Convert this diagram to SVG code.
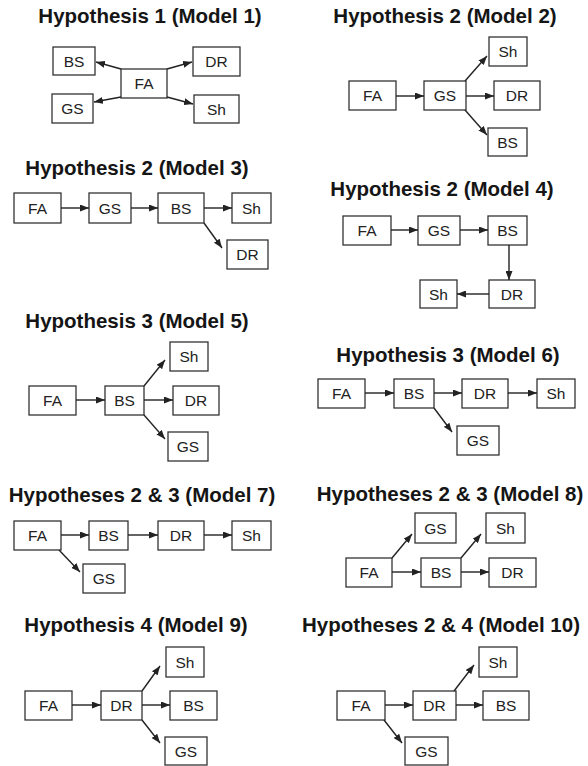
<svg xmlns="http://www.w3.org/2000/svg" width="588" height="766" viewBox="0 0 588 766">
<style>
.t{font-family:"Liberation Sans",Arial,sans-serif;font-weight:bold;font-size:20.5px;fill:#151515;text-anchor:middle}
.n rect{fill:#fff;stroke:#333;stroke-width:1.3}
.n text{font-family:"Liberation Sans",Arial,sans-serif;font-size:15.5px;fill:#222;text-anchor:middle}
.c line{stroke:#222;stroke-width:1.4;marker-end:url(#ah)}
</style>
<defs>
<marker id="ah" viewBox="0 0 9 7" refX="9" refY="3.5" markerWidth="9" markerHeight="7" markerUnits="userSpaceOnUse" orient="auto">
<path d="M0,0 L9,3.5 L0,7 z" fill="#222"/>
</marker>
</defs>
<rect width="588" height="766" fill="#fff"/>
<g id="titles">
<text class="t" x="150" y="23">Hypothesis 1 (Model 1)</text>
<text class="t" x="445" y="23">Hypothesis 2 (Model 2)</text>
<text class="t" x="137" y="175">Hypothesis 2 (Model 3)</text>
<text class="t" x="442" y="196">Hypothesis 2 (Model 4)</text>
<text class="t" x="137" y="328">Hypothesis 3 (Model 5)</text>
<text class="t" x="448" y="362">Hypothesis 3 (Model 6)</text>
<text class="t" x="142" y="502">Hypotheses 2 &amp; 3 (Model 7)</text>
<text class="t" x="450" y="501">Hypotheses 2 &amp; 3 (Model 8)</text>
<text class="t" x="136" y="632">Hypothesis 4 (Model 9)</text>
<text class="t" x="441" y="632">Hypotheses 2 &amp; 4 (Model 10)</text>
</g>
<!-- Model 1 -->
<g id="m1-BS" class="n"><rect x="53" y="47" width="42" height="28"/><text x="74" y="66.5">BS</text></g>
<g id="m1-DR" class="n"><rect x="193" y="47" width="47" height="29"/><text x="216.5" y="67">DR</text></g>
<g id="m1-FA" class="n"><rect x="121" y="69" width="46" height="29"/><text x="144" y="89">FA</text></g>
<g id="m1-GS" class="n"><rect x="52" y="94" width="41" height="29"/><text x="72.5" y="114">GS</text></g>
<g id="m1-Sh" class="n"><rect x="194" y="95" width="45" height="28"/><text x="216.5" y="114.5">Sh</text></g>
<!-- Model 2 -->
<g id="m2-FA" class="n"><rect x="349" y="81" width="47" height="29"/><text x="372.5" y="101">FA</text></g>
<g id="m2-GS" class="n"><rect x="424" y="81" width="42" height="29"/><text x="445" y="101">GS</text></g>
<g id="m2-Sh" class="n"><rect x="489" y="37" width="38" height="29"/><text x="508" y="57">Sh</text></g>
<g id="m2-DR" class="n"><rect x="494" y="81" width="46" height="29"/><text x="517" y="101">DR</text></g>
<g id="m2-BS" class="n"><rect x="488" y="128" width="39" height="28"/><text x="507.5" y="147.5">BS</text></g>
<!-- Model 3 -->
<g id="m3-FA" class="n"><rect x="14" y="193" width="47" height="30"/><text x="37.5" y="213.5">FA</text></g>
<g id="m3-GS" class="n"><rect x="89" y="193" width="42" height="30"/><text x="110" y="213.5">GS</text></g>
<g id="m3-BS" class="n"><rect x="158" y="193" width="46" height="30"/><text x="181" y="213.5">BS</text></g>
<g id="m3-Sh" class="n"><rect x="232" y="193" width="39" height="30"/><text x="251.5" y="213.5">Sh</text></g>
<g id="m3-DR" class="n"><rect x="227" y="240" width="41" height="29"/><text x="247.5" y="260">DR</text></g>
<!-- Model 4 -->
<g id="m4-FA" class="n"><rect x="343" y="216" width="48" height="29"/><text x="367" y="236">FA</text></g>
<g id="m4-GS" class="n"><rect x="418" y="216" width="42" height="29"/><text x="439" y="236">GS</text></g>
<g id="m4-BS" class="n"><rect x="488" y="216" width="39" height="29"/><text x="507.5" y="236">BS</text></g>
<g id="m4-DR" class="n"><rect x="489" y="280" width="46" height="28"/><text x="512" y="299.5">DR</text></g>
<g id="m4-Sh" class="n"><rect x="420" y="280" width="37" height="28"/><text x="438.5" y="299.5">Sh</text></g>
<!-- Model 5 -->
<g id="m5-FA" class="n"><rect x="29" y="386" width="47" height="29"/><text x="52.5" y="406">FA</text></g>
<g id="m5-BS" class="n"><rect x="105" y="386" width="39" height="29"/><text x="124.5" y="406">BS</text></g>
<g id="m5-Sh" class="n"><rect x="170" y="342" width="38" height="29"/><text x="189" y="362">Sh</text></g>
<g id="m5-DR" class="n"><rect x="173" y="386" width="46" height="29"/><text x="196" y="406">DR</text></g>
<g id="m5-GS" class="n"><rect x="168" y="432" width="40" height="29"/><text x="188" y="452">GS</text></g>
<!-- Model 6 -->
<g id="m6-FA" class="n"><rect x="318" y="379" width="47" height="29"/><text x="341.5" y="399">FA</text></g>
<g id="m6-BS" class="n"><rect x="394" y="379" width="40" height="29"/><text x="414" y="399">BS</text></g>
<g id="m6-DR" class="n"><rect x="462" y="379" width="46" height="29"/><text x="485" y="399">DR</text></g>
<g id="m6-Sh" class="n"><rect x="537" y="379" width="38" height="29"/><text x="556" y="399">Sh</text></g>
<g id="m6-GS" class="n"><rect x="457" y="426" width="42" height="29"/><text x="478" y="446">GS</text></g>
<!-- Model 7 -->
<g id="m7-FA" class="n"><rect x="14" y="521" width="47" height="29"/><text x="37.5" y="541">FA</text></g>
<g id="m7-BS" class="n"><rect x="89" y="521" width="39" height="29"/><text x="108.5" y="541">BS</text></g>
<g id="m7-DR" class="n"><rect x="158" y="521" width="46" height="29"/><text x="181" y="541">DR</text></g>
<g id="m7-Sh" class="n"><rect x="232" y="521" width="39" height="29"/><text x="251.5" y="541">Sh</text></g>
<g id="m7-GS" class="n"><rect x="83" y="564" width="42" height="29"/><text x="104" y="584">GS</text></g>
<!-- Model 8 -->
<g id="m8-GS" class="n"><rect x="415" y="513" width="41" height="30"/><text x="435.5" y="533.5">GS</text></g>
<g id="m8-Sh" class="n"><rect x="486" y="513" width="39" height="30"/><text x="505.5" y="533.5">Sh</text></g>
<g id="m8-FA" class="n"><rect x="346" y="558" width="46" height="29"/><text x="369" y="578">FA</text></g>
<g id="m8-BS" class="n"><rect x="421" y="558" width="40" height="29"/><text x="441" y="578">BS</text></g>
<g id="m8-DR" class="n"><rect x="489" y="558" width="47" height="29"/><text x="512.5" y="578">DR</text></g>
<!-- Model 9 -->
<g id="m9-FA" class="n"><rect x="25" y="691" width="47" height="29"/><text x="48.5" y="711">FA</text></g>
<g id="m9-DR" class="n"><rect x="101" y="691" width="41" height="29"/><text x="121.5" y="711">DR</text></g>
<g id="m9-Sh" class="n"><rect x="166" y="647" width="38" height="30"/><text x="185" y="667.5">Sh</text></g>
<g id="m9-BS" class="n"><rect x="170" y="691" width="47" height="29"/><text x="193.5" y="711">BS</text></g>
<g id="m9-GS" class="n"><rect x="165" y="737" width="42" height="28"/><text x="186" y="756.5">GS</text></g>
<!-- Model 10 -->
<g id="m10-FA" class="n"><rect x="337" y="691" width="48" height="29"/><text x="361" y="711">FA</text></g>
<g id="m10-DR" class="n"><rect x="413" y="691" width="43" height="29"/><text x="434.5" y="711">DR</text></g>
<g id="m10-BS" class="n"><rect x="483" y="691" width="46" height="29"/><text x="506" y="711">BS</text></g>
<g id="m10-Sh" class="n"><rect x="479" y="647" width="38" height="30"/><text x="498" y="667.5">Sh</text></g>
<g id="m10-GS" class="n"><rect x="405" y="737" width="43" height="28"/><text x="426.5" y="756.5">GS</text></g>
<g id="connectors" class="c">
<line x1="121" y1="69" x2="96" y2="62"/>
<line x1="167" y1="69" x2="192" y2="62"/>
<line x1="121" y1="97" x2="94" y2="102"/>
<line x1="167" y1="97" x2="193" y2="104"/>
<line x1="396" y1="96" x2="424" y2="96"/>
<line x1="466" y1="96" x2="494" y2="96"/>
<line x1="465" y1="81" x2="487" y2="56"/>
<line x1="465" y1="110" x2="487" y2="135"/>
<line x1="61" y1="208" x2="89" y2="208"/>
<line x1="131" y1="208" x2="158" y2="208"/>
<line x1="204" y1="208" x2="232" y2="208"/>
<line x1="204" y1="223" x2="222" y2="248"/>
<line x1="391" y1="230" x2="418" y2="230"/>
<line x1="460" y1="230" x2="488" y2="230"/>
<line x1="509" y1="245" x2="509" y2="280"/>
<line x1="489" y1="294" x2="457" y2="294"/>
<line x1="76" y1="400" x2="105" y2="400"/>
<line x1="144" y1="400" x2="173" y2="400"/>
<line x1="144" y1="386" x2="165" y2="360"/>
<line x1="144" y1="415" x2="165" y2="439"/>
<line x1="365" y1="393" x2="394" y2="393"/>
<line x1="434" y1="393" x2="462" y2="393"/>
<line x1="508" y1="393" x2="537" y2="393"/>
<line x1="434" y1="408" x2="452" y2="432"/>
<line x1="61" y1="535" x2="89" y2="535"/>
<line x1="128" y1="535" x2="158" y2="535"/>
<line x1="204" y1="535" x2="232" y2="535"/>
<line x1="59" y1="550" x2="80" y2="572"/>
<line x1="392" y1="572" x2="421" y2="572"/>
<line x1="461" y1="572" x2="489" y2="572"/>
<line x1="392" y1="558" x2="412" y2="534"/>
<line x1="461" y1="558" x2="481" y2="534"/>
<line x1="72" y1="705" x2="101" y2="705"/>
<line x1="142" y1="705" x2="170" y2="705"/>
<line x1="142" y1="691" x2="160" y2="666"/>
<line x1="142" y1="720" x2="160" y2="743"/>
<line x1="385" y1="705" x2="413" y2="705"/>
<line x1="456" y1="705" x2="483" y2="705"/>
<line x1="454" y1="691" x2="474" y2="665"/>
<line x1="384" y1="720" x2="402" y2="743"/>
</g>
</svg>
